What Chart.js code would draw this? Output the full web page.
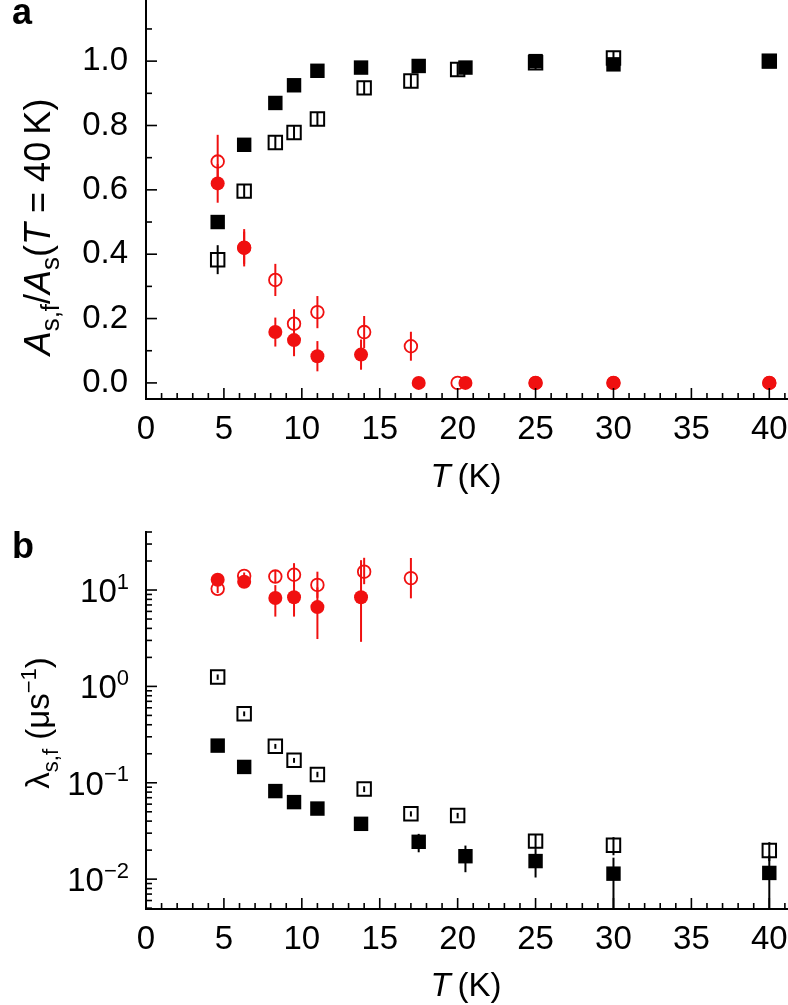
<!DOCTYPE html>
<html>
<head>
<meta charset="utf-8">
<script src="https://cdn.jsdelivr.net/npm/chart.js@4.4.1/dist/chart.umd.min.js"></script>
<style>
  html, body { margin: 0; padding: 0; background: #fff; }
  canvas { position: absolute; left: 0; }
  #chartA { top: 0; }
  #chartB { top: 505px; }
</style>
</head>
<body>
<canvas id="chartA" width="788" height="505"></canvas>
<canvas id="chartB" width="788" height="500"></canvas>
<script>
// temperatures (K): filled symbols and open symbols
const tempFilled = [4.6, 6.3, 8.3, 9.5, 11, 13.8, 17.5, 20.5, 25, 30, 40];
const tempOpen = [4.6, 6.3, 8.3, 9.5, 11, 14, 17, 20, 25, 30, 40];

// panel a: normalised amplitudes
const ampSlowFilled = [0.50, 0.74, 0.87, 0.925, 0.97, 0.98, 0.985, 0.98, 1.0, 0.99, 1.0];
const ampSlowOpen = [0.383, 0.596, 0.747, 0.778, 0.82, 0.917, 0.938, 0.974, 0.995, 1.01, 1.0];
const ampSlowOpenErr = [0.045, 0.02, 0.02, 0.02, 0.02, 0.02, 0.02, 0.02, 0.02, 0.02, 0.02];
const ampFastFilled = [0.62, 0.42, 0.158, 0.133, 0.083, 0.088, 0, 0, 0, 0, 0];
const ampFastFilledErr = [0.06, 0.058, 0.045, 0.05, 0.047, 0.047, 0, 0, 0, 0, 0];
const ampFastOpen = [0.688, 0.42, 0.32, 0.184, 0.22, 0.158, 0.114, 0, 0, 0, 0];
const ampFastOpenErr = [0.083, 0.05, 0.05, 0.045, 0.05, 0.05, 0.045, 0, 0, 0, 0];

// panel b: relaxation rates (us^-1)
const rateSlowFilled = [0.243, 0.146, 0.082, 0.063, 0.054, 0.0375, 0.0244, 0.0173, 0.0154, 0.0114, 0.0116];
const rateSlowFilledErrLo = [0, 0, 0, 0, 0, 0.002, 0.0054, 0.0055, 0.005, 0.0114, 0.0116];
const rateSlowFilledErrHi = [0, 0, 0, 0, 0, 0.002, 0.0051, 0.005, 0.0051, 0.0053, 0.006];
const rateSlowOpen = [1.25, 0.52, 0.239, 0.171, 0.122, 0.086, 0.0476, 0.0457, 0.0248, 0.0225, 0.0198];
const rateSlowOpenErr = [0.08, 0.03, 0.014, 0.01, 0.008, 0.006, 0.003, 0.003, 0.0042, 0.0048, 0.0044];
const rateFastFilled = [12.8, 12.2, 8.25, 8.4, 6.65, 8.4];
const rateFastFilledErrLo = [1.0, 1.0, 2.95, 3.1, 3.55, 5.5];
const rateFastFilledErrHi = [1.0, 1.0, 3.0, 3.0, 4.0, 12.0];
const rateFastOpen = [10.3, 14.0, 13.8, 14.4, 11.3, 15.5, 13.3];
const rateFastOpenErrLo = [1.0, 1.2, 2.0, 3.5, 3.0, 4.0, 5.1];
const rateFastOpenErrHi = [1.0, 1.2, 2.0, 4.6, 4.2, 6.1, 8.2];

// tick labels
const xTicks = [0, 5, 10, 15, 20, 25, 30, 35, 40];
const yTicksA = [0, 0.2, 0.4, 0.6, 0.8, 1.0];
const yTicksB = [0.01, 0.1, 1, 10];

const FONT = '"Liberation Sans", Arial, Helvetica, sans-serif';
const RED = 'rgb(240, 16, 16)';
const TICK_SIZE = 33;

const pts = (xs, ys) => ys.map((y, i) => ({ x: xs[i], y: y }));

function drawRich(ctx, runs, x, y, size, align, subScale) {
  const k = subScale || 0.68;
  const parts = runs.map(r => {
    const s = (r.sub || r.sup) ? Math.round(size * k) : size;
    const font = (r.bold ? 'bold ' : '') + (r.italic ? 'italic ' : '') + s + 'px ' + FONT;
    ctx.font = font;
    return { text: r.text, font, w: ctx.measureText(r.text).width, dy: r.sub ? size * 0.26 : r.sup ? -size * 0.4 : 0 };
  });
  const total = parts.reduce((a, p) => a + p.w, 0);
  let cx = align === 'center' ? x - total / 2 : align === 'right' ? x - total : x;
  ctx.textAlign = 'left';
  ctx.textBaseline = 'alphabetic';
  parts.forEach(p => {
    ctx.font = p.font;
    ctx.fillText(p.text, cx, y + p.dy);
    cx += p.w;
  });
}

const errorBars = {
  id: 'errorBars',
  beforeDatasetsDraw(chart) {
    const ctx = chart.ctx;
    const ys = chart.scales.y;
    const area = chart.chartArea;
    ctx.save();
    ctx.beginPath();
    ctx.rect(area.left, area.top, area.right - area.left, area.bottom - area.top);
    ctx.clip();
    chart.data.datasets.forEach((ds, i) => {
      if (!ds.errHi) return;
      const meta = chart.getDatasetMeta(i);
      ctx.strokeStyle = ds.barColor;
      ctx.lineWidth = 2;
      ds.data.forEach((p, j) => {
        const hi = ds.errHi[j];
        const lo = ds.errLo ? ds.errLo[j] : hi;
        if (!hi && !lo) return;
        const x = meta.data[j].x;
        const top = ys.getPixelForValue(p.y + hi);
        const low = p.y - lo;
        const bot = (ys.type === 'logarithmic' && low <= 0) ? area.bottom : ys.getPixelForValue(low);
        ctx.beginPath();
        ctx.moveTo(x, top);
        ctx.lineTo(x, bot);
        ctx.stroke();
      });
    });
    ctx.restore();
  }
};

const decor = {
  id: 'decor',
  afterDraw(chart, args, opts) {
    const ctx = chart.ctx;
    const area = chart.chartArea;
    const xs = chart.scales.x;
    const ys = chart.scales.y;
    ctx.save();
    ctx.strokeStyle = '#000';
    ctx.fillStyle = '#000';
    ctx.lineWidth = 1.6;
    // inward ticks on the x axis, minor every 1 K
    for (let t = 1; t <= 41; t++) {
      const px = xs.getPixelForValue(t);
      const len = t % 5 === 0 ? 11 : 6;
      ctx.beginPath();
      ctx.moveTo(px, area.bottom);
      ctx.lineTo(px, area.bottom - len);
      ctx.stroke();
    }
    // inward ticks on the y axis
    opts.yMarks.forEach(m => {
      const py = ys.getPixelForValue(m.v);
      if (py < area.top - 0.5 || py > area.bottom + 0.5) return;
      ctx.beginPath();
      ctx.moveTo(area.left, py);
      ctx.lineTo(area.left + (m.major ? 11 : 6), py);
      ctx.stroke();
    });
    // power-of-ten labels
    if (opts.logLabels) {
      yTicksB.forEach(v => {
        const e = Math.round(Math.log10(v));
        const py = ys.getPixelForValue(v);
        drawRich(ctx, [{ text: '10' }, { text: (e < 0 ? '\u2212' : '') + Math.abs(e), sup: true }],
          area.left - 17, py + TICK_SIZE * 0.36, TICK_SIZE, 'right');
      });
    }
    // panel letter
    drawRich(ctx, [{ text: opts.letter, bold: true }], 12, opts.letterY, 36, 'left');
    // y title (rotated)
    ctx.translate(opts.yTitleX, opts.yTitleY);
    ctx.rotate(-Math.PI / 2);
    drawRich(ctx, opts.yTitle, 0, 0, opts.yTitleSize, 'center', opts.subScale);
    ctx.setTransform(1, 0, 0, 1, 0, 0);
    // x title
    drawRich(ctx, [{ text: 'T', italic: true }, { text: '\u2009(K)' }], 466, opts.xTitleY, 33, 'center');
    ctx.restore();
  }
};

const xScale = (height) => ({
  type: 'linear',
  min: 0,
  max: 41.2,
  afterBuildTicks: s => { s.ticks = xTicks.map(v => ({ value: v })); },
  afterFit: s => { s.height = height; s.paddingLeft = 0; s.paddingRight = 0; },
  ticks: { font: { family: FONT, size: TICK_SIZE }, color: '#000', padding: 11, maxRotation: 0, autoSkip: false },
  grid: { drawOnChartArea: false, drawTicks: false },
  border: { color: '#000', width: 2 }
});

const fitY = s => { s.width = 146; s.paddingTop = 0; s.paddingBottom = 0; };

const yMarksA = [];
for (let i = 0; i <= 11; i++) yMarksA.push({ v: i / 10, major: i % 2 === 0 });
const yMarksB = [];
for (let d = -3; d <= 1; d++) {
  for (let k = 1; k <= 9; k++) yMarksB.push({ v: k * Math.pow(10, d), major: k === 1 });
}

const common = {
  responsive: false,
  animation: false,
  events: [],
  plugins: { legend: { display: false }, tooltip: { enabled: false } }
};

new Chart(document.getElementById('chartA'), {
  type: 'scatter',
  data: {
    datasets: [
      { data: pts(tempFilled, ampFastFilled), pointStyle: 'circle', pointRadius: 7, pointBackgroundColor: RED, pointBorderWidth: 0,
        errHi: ampFastFilledErr, barColor: RED },
      { data: pts(tempOpen, ampFastOpen), pointStyle: 'circle', pointRadius: 6.3, pointBackgroundColor: 'rgba(0,0,0,0)', pointBorderColor: RED, pointBorderWidth: 1.8,
        errHi: ampFastOpenErr, barColor: RED },
      { data: pts(tempFilled, ampSlowFilled), pointStyle: 'rect', pointRadius: 10.2, pointBackgroundColor: '#000', pointBorderWidth: 0 },
      { data: pts(tempOpen, ampSlowOpen), pointStyle: 'rect', pointRadius: 9.5, pointBackgroundColor: 'rgba(0,0,0,0)', pointBorderColor: '#000', pointBorderWidth: 2,
        errHi: ampSlowOpenErr, barColor: '#000' }
    ]
  },
  options: {
    ...common,
    layout: { padding: { top: 0, right: 0, left: 0, bottom: 0 }, autoPadding: false },
    scales: {
      x: xScale(106),
      y: {
        type: 'linear',
        min: -0.05,
        max: 1.19,
        afterBuildTicks: s => { s.ticks = yTicksA.map(v => ({ value: v })); },
        afterFit: fitY,
        ticks: { font: { family: FONT, size: TICK_SIZE }, color: '#000', padding: 18, callback: v => v.toFixed(1) },
        grid: { drawOnChartArea: false, drawTicks: false },
        border: { color: '#000', width: 2 }
      }
    },
    plugins: {
      ...common.plugins,
      decor: {
        letter: 'a', letterY: 24, yMarks: yMarksA, logLabels: false,
        yTitleX: 50, yTitleY: 227, xTitleY: 487, yTitleSize: 36, subScale: 0.72,
        yTitle: [
          { text: 'A', italic: true }, { text: 's,f', sub: true }, { text: '/' },
          { text: 'A', italic: true }, { text: 's', sub: true }, { text: '(' },
          { text: 'T', italic: true }, { text: ' = 40\u2009K)' }
        ]
      }
    }
  },
  plugins: [errorBars, decor]
});

new Chart(document.getElementById('chartB'), {
  type: 'scatter',
  data: {
    datasets: [
      { data: pts(tempFilled, rateFastFilled), pointStyle: 'circle', pointRadius: 7, pointBackgroundColor: RED, pointBorderWidth: 0,
        errLo: rateFastFilledErrLo, errHi: rateFastFilledErrHi, barColor: RED },
      { data: pts(tempOpen, rateFastOpen), pointStyle: 'circle', pointRadius: 6.3, pointBackgroundColor: 'rgba(0,0,0,0)', pointBorderColor: RED, pointBorderWidth: 1.8,
        errLo: rateFastOpenErrLo, errHi: rateFastOpenErrHi, barColor: RED },
      { data: pts(tempFilled, rateSlowFilled), pointStyle: 'rect', pointRadius: 10.2, pointBackgroundColor: '#000', pointBorderWidth: 0,
        errLo: rateSlowFilledErrLo, errHi: rateSlowFilledErrHi, barColor: '#000' },
      { data: pts(tempOpen, rateSlowOpen), pointStyle: 'rect', pointRadius: 9.5, pointBackgroundColor: 'rgba(0,0,0,0)', pointBorderColor: '#000', pointBorderWidth: 2,
        errHi: rateSlowOpenErr, barColor: '#000' }
    ]
  },
  options: {
    ...common,
    layout: { padding: { top: 27, right: 0, left: 0, bottom: 0 }, autoPadding: false },
    scales: {
      x: xScale(96),
      y: {
        type: 'logarithmic',
        min: 0.0049,
        max: 40,
        afterBuildTicks: s => { s.ticks = yTicksB.map(v => ({ value: v })); },
        afterFit: fitY,
        ticks: { display: false },
        grid: { drawOnChartArea: false, drawTicks: false },
        border: { color: '#000', width: 2 }
      }
    },
    plugins: {
      ...common.plugins,
      decor: {
        letter: 'b', letterY: 53, yMarks: yMarksB, logLabels: true,
        yTitleX: 49, yTitleY: 218, xTitleY: 491, yTitleSize: 33, subScale: 0.68,
        yTitle: [
          { text: '\u03bb' }, { text: 's,f', sub: true }, { text: ' (\u03bcs' },
          { text: '\u22121', sup: true }, { text: ')' }
        ]
      }
    }
  },
  plugins: [errorBars, decor]
});
</script>
</body>
</html>
